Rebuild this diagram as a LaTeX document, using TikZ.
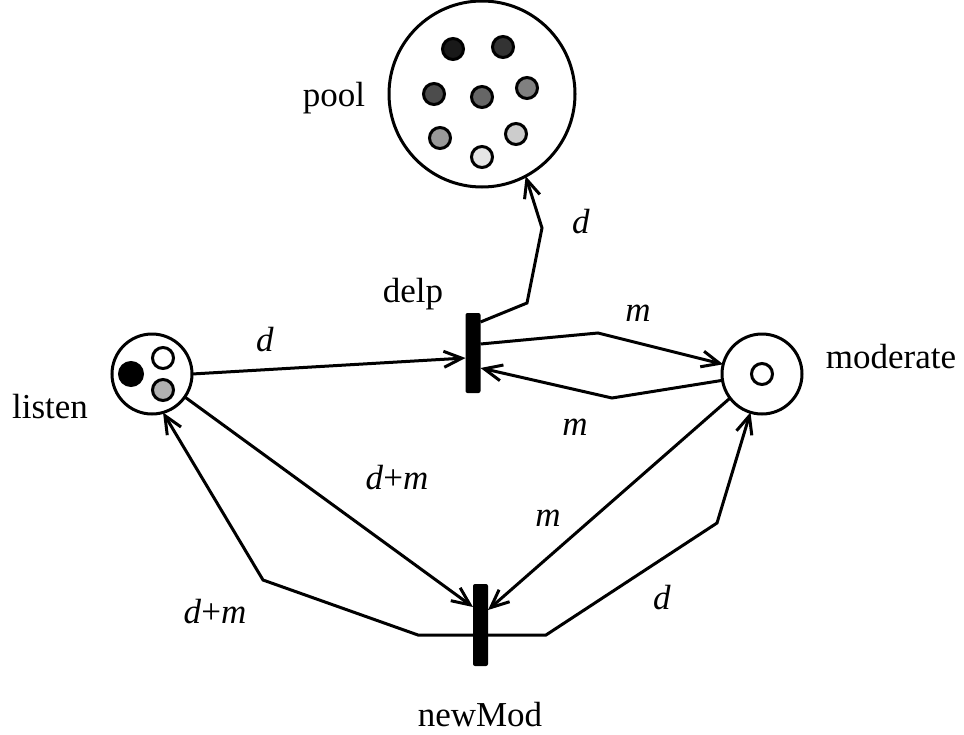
\documentclass[tikz,border=0pt]{standalone}
\usepackage{fontspec}
\setmainfont{Liberation Serif}
\usetikzlibrary{arrows.meta}
\tikzset {>={Straight Barb[length=9pt,width=8pt]}}

\begin{document}
\begin{tikzpicture}[x=0.5pt,y=-0.5pt,line width=1.5pt,
  font=\fontsize{17.5}{21}\selectfont,
  place/.style={draw,circle,inner sep=0pt,outer sep=0pt,minimum size=40pt},
  token/.style={draw,circle,inner sep=0pt,outer sep=0pt,minimum size=10.5pt},
  trans/.style={fill,rounded corners=1pt,inner sep=0pt,outer sep=0pt,minimum width=7.5pt,minimum height=40pt}]
\useasboundingbox (0,0) rectangle (964,734);
% places and transitions
\node[place,minimum size=93pt] (pool) at (482,94) {};
\node[place] (listen) at (152,374) {};
\node[place] (moderate) at (762,374) {};
\node[trans] (delp) at (473,353) {};
\node[trans,minimum height=41pt] (newMod) at (480.5,625) {};
% tokens
\foreach \x/\y/\g [count=\i] in {453/49/90,503/47/80,434/94/70,482/97/60,527/88/50,440/138/40,516/134/20,482/157/10}
  \node[token,fill=black!\g] (p\i) at (\x,\y) {};
\node[token,fill=black,minimum size=11.5pt] (l1) at (131,374) {};
\node[token,fill=white] (l2) at (163,358) {};
\node[token,fill=black!30] (l3) at (163,390) {};
\node[token,fill=white] (m1) at (762,374) {};
% names
\node (npool) at (334,98) {pool};
\node (ndelp) at (413,294) {delp};
\node (nlisten) at (50,407) {listen};
\node (nmoderate) at (891,357) {moderate};
\node (nnewMod) at (480,715) {newMod};
% arcs
\draw[->] (listen.east) -- ([yshift=-2.5pt]delp.west);
\draw[->] ([yshift=4.5pt]delp.east) -- (598,333) -- (moderate);
\draw[->] (moderate) -- (612,398) -- ([yshift=-7.5pt]delp.east);
\draw[->] ([yshift=15.5pt]delp.east) -- (527,303) -- (542,228) -- (pool.-62);
\draw[->] (listen.-35) -- ([yshift=9pt]newMod.west);
\draw[->] ([yshift=-5pt]newMod.west) -- (418,635) -- (263,580) -- (listen.-74);
\draw[->] (moderate.-143) -- ([yshift=7.5pt]newMod.east);
\draw[->] ([yshift=-5pt]newMod.east) -- (546,635) -- (717,523) -- (moderate);
% inscriptions
\node (a1) at (265,340) {\textit{d}};
\node (a2) at (638,313) {\textit{m}};
\node (a3) at (575,427) {\textit{m}};
\node (a4) at (581,222) {\textit{d}};
\node (a5) at (397,478) {\textit{d}+\textit{m}};
\node (a6) at (215,612) {\textit{d}+\textit{m}};
\node (a7) at (548,518) {\textit{m}};
\node (a8) at (662,598) {\textit{d}};
\end{tikzpicture}
\end{document}
